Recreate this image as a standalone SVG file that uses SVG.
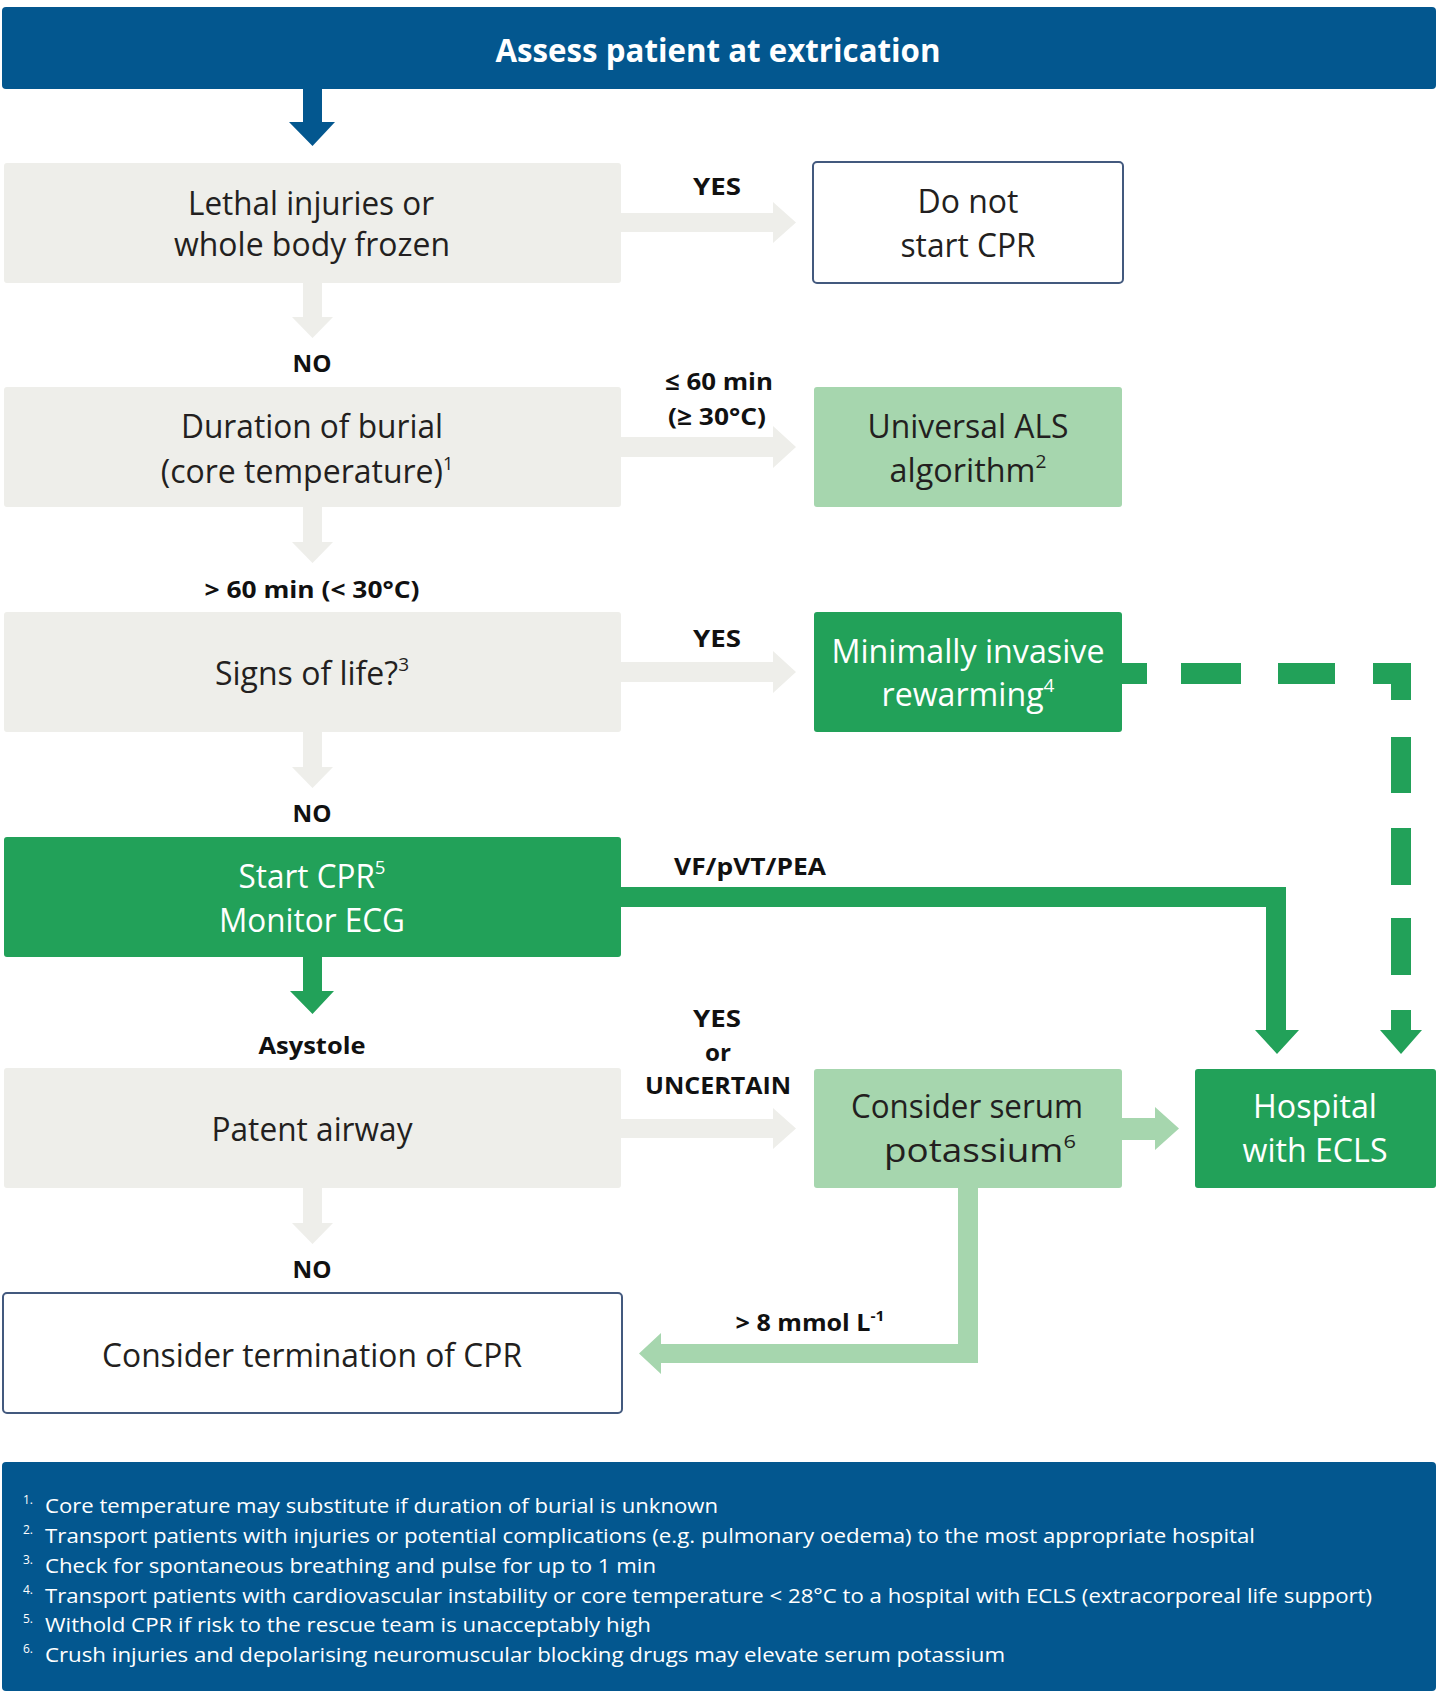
<svg xmlns="http://www.w3.org/2000/svg" width="1440" height="1697" viewBox="0 0 1440 1697">
<style>
.t{font-family:"Open Sans","Liberation Sans",sans-serif;font-size:32px;fill:#231f20;text-anchor:middle}
.w{fill:#ffffff}
.lb{font-family:"Open Sans","Liberation Sans",sans-serif;font-size:24px;font-weight:bold;fill:#111111;text-anchor:middle}
.hd{font-family:"Open Sans","Liberation Sans",sans-serif;font-size:32px;font-weight:bold;fill:#ffffff;text-anchor:middle}
.fn{font-family:"Open Sans","Liberation Sans",sans-serif;font-size:20px;fill:#ffffff}
.fs{font-family:"Open Sans","Liberation Sans",sans-serif;font-size:12px;fill:#ffffff}
.gray{fill:#eeeeea}
.lg{fill:#a6d6ae}
.dg{fill:#22a159}
.blue{fill:#03578f}
.outl{fill:#ffffff;stroke:#43597e;stroke-width:2}
</style>
<rect width="1440" height="1697" fill="#ffffff"/>

<g id="header">
<rect class="blue" x="2" y="7" width="1434" height="82" rx="4"/>
<text class="hd" x="718" y="62" textLength="445" lengthAdjust="spacingAndGlyphs">Assess patient at extrication</text>
</g>

<g id="connectors">
<path class="blue" d="M303,89 H322 V122 H335 L312.5,146 L289,122 H303 Z"/>
<path class="gray" d="M303,283 H322 V317 H333 L312.5,338 L292,317 H303 Z"/>
<path class="gray" d="M303,507 H322 V542 H333 L312.5,563 L292,542 H303 Z"/>
<path class="gray" d="M303,732 H322 V767 H333 L312.5,788 L292,767 H303 Z"/>
<path class="dg" d="M303,957 H322 V991 H334 L312.5,1014 L290,991 H303 Z"/>
<path class="gray" d="M303,1188 H322 V1223 H333 L312.5,1244 L292,1223 H303 Z"/>
<path class="gray" d="M621,213 H773 V202 L796,222.5 L773,243 V232 H621 Z"/>
<path class="gray" d="M621,437 H773 V426 L796,447 L773,468 V457 H621 Z"/>
<path class="gray" d="M621,662 H773 V651 L796,672 L773,693 V682 H621 Z"/>
<path class="gray" d="M621,1119 H773 V1108 L796,1128.5 L773,1149 V1138 H621 Z"/>
<path class="lg" d="M1122,1118 H1155 V1107 L1179,1128.5 L1155,1150 V1140 H1122 Z"/>
<path class="dg" d="M621,887 H1286 V1030 H1299 L1277,1054 L1255,1030 H1266 V907 H621 Z"/>
<path class="lg" d="M958,1188 H978 V1363 H661 V1374 L639,1353.5 L661,1333 V1344 H958 Z"/>
<g class="dg">
<rect x="1122" y="663" width="25" height="21"/>
<rect x="1181" y="663" width="60" height="21"/>
<rect x="1278" y="663" width="57" height="21"/>
<path d="M1373,663 H1411 V700 H1391 V684 H1373 Z"/>
<rect x="1391" y="737" width="20" height="56"/>
<rect x="1391" y="828" width="20" height="57"/>
<rect x="1391" y="918" width="20" height="57"/>
<path d="M1391,1010 H1411 V1030 H1422 L1401,1054 L1380,1030 H1391 Z"/>
</g>
<text class="lb" x="717" y="195" textLength="48" lengthAdjust="spacingAndGlyphs">YES</text>
<text class="lb" x="312" y="372" textLength="39" lengthAdjust="spacingAndGlyphs">NO</text>
<text class="lb" x="719" y="390" textLength="108" lengthAdjust="spacingAndGlyphs">≤ 60 min</text>
<text class="lb" x="717" y="425" textLength="98" lengthAdjust="spacingAndGlyphs">(≥ 30°C)</text>
<text class="lb" x="312" y="598" textLength="215" lengthAdjust="spacingAndGlyphs">&gt; 60 min (&lt; 30°C)</text>
<text class="lb" x="717" y="647" textLength="48" lengthAdjust="spacingAndGlyphs">YES</text>
<text class="lb" x="312" y="822" textLength="39" lengthAdjust="spacingAndGlyphs">NO</text>
<text class="lb" x="750" y="875" textLength="152" lengthAdjust="spacingAndGlyphs">VF/pVT/PEA</text>
<text class="lb" x="312" y="1054" textLength="107" lengthAdjust="spacingAndGlyphs">Asystole</text>
<text class="lb" x="717" y="1027" textLength="48" lengthAdjust="spacingAndGlyphs">YES</text>
<text class="lb" x="718" y="1061" textLength="26" lengthAdjust="spacingAndGlyphs">or</text>
<text class="lb" x="718" y="1094" textLength="146" lengthAdjust="spacingAndGlyphs">UNCERTAIN</text>
<text class="lb" x="312" y="1278" textLength="39" lengthAdjust="spacingAndGlyphs">NO</text>
<text class="lb" x="810" y="1331" textLength="149" lengthAdjust="spacingAndGlyphs">&gt; 8 mmol L<tspan font-size="15" dy="-10">-1</tspan></text>
</g>

<g id="lethal">
<rect class="gray" x="4" y="163" width="617" height="120" rx="3"/>
<text class="t" x="311" y="215" textLength="246" lengthAdjust="spacingAndGlyphs">Lethal injuries or</text>
<text class="t" x="312" y="256" textLength="276" lengthAdjust="spacingAndGlyphs">whole body frozen</text>
</g>
<g id="donotstart">
<rect class="outl" x="813" y="162" width="310" height="121" rx="4"/>
<text class="t" x="968" y="213" textLength="101" lengthAdjust="spacingAndGlyphs">Do not</text>
<text class="t" x="968" y="257" textLength="135" lengthAdjust="spacingAndGlyphs">start CPR</text>
</g>
<g id="duration">
<rect class="gray" x="4" y="387" width="617" height="120" rx="3"/>
<text class="t" x="312" y="438" textLength="262" lengthAdjust="spacingAndGlyphs">Duration of burial</text>
<text class="t" x="307" y="483" font-size="30">(core temperature)<tspan font-size="18" dy="-13">1</tspan></text>
</g>
<g id="universal">
<rect class="lg" x="814" y="387" width="308" height="120" rx="3"/>
<text class="t" x="968" y="438" textLength="201" lengthAdjust="spacingAndGlyphs">Universal ALS</text>
<text class="t" x="968" y="482" textLength="157" lengthAdjust="spacingAndGlyphs">algorithm<tspan font-size="19" dy="-14">2</tspan></text>
</g>
<g id="signs">
<rect class="gray" x="4" y="612" width="617" height="120" rx="3"/>
<text class="t" x="312" y="685" textLength="194" lengthAdjust="spacingAndGlyphs">Signs of life?<tspan font-size="19" dy="-14">3</tspan></text>
</g>
<g id="rewarming">
<rect class="dg" x="814" y="612" width="308" height="120" rx="3"/>
<text class="t w" x="968" y="663" textLength="273" lengthAdjust="spacingAndGlyphs">Minimally invasive</text>
<text class="t w" x="968" y="706" textLength="173" lengthAdjust="spacingAndGlyphs">rewarming<tspan font-size="19" dy="-14">4</tspan></text>
</g>
<g id="startcpr">
<rect class="dg" x="4" y="837" width="617" height="120" rx="3"/>
<text class="t w" x="312" y="888" textLength="147" lengthAdjust="spacingAndGlyphs">Start CPR<tspan font-size="19" dy="-14">5</tspan></text>
<text class="t w" x="312" y="932" textLength="186" lengthAdjust="spacingAndGlyphs">Monitor ECG</text>
</g>
<g id="airway">
<rect class="gray" x="4" y="1068" width="617" height="120" rx="3"/>
<text class="t" x="312" y="1141" textLength="201" lengthAdjust="spacingAndGlyphs">Patent airway</text>
</g>
<g id="potassium">
<rect class="lg" x="814" y="1069" width="308" height="119" rx="3"/>
<text class="t" x="967" y="1118" textLength="232" lengthAdjust="spacingAndGlyphs">Consider serum</text>
<text class="t" x="980" y="1162" textLength="192" lengthAdjust="spacingAndGlyphs">potassium<tspan font-size="19" dy="-14">6</tspan></text>
</g>
<g id="hospital">
<rect class="dg" x="1195" y="1069" width="241" height="119" rx="3"/>
<text class="t w" x="1315" y="1118" textLength="124" lengthAdjust="spacingAndGlyphs">Hospital</text>
<text class="t w" x="1315" y="1162" textLength="145" lengthAdjust="spacingAndGlyphs">with ECLS</text>
</g>
<g id="termination">
<rect class="outl" x="3" y="1293" width="619" height="120" rx="4"/>
<text class="t" x="312" y="1367" textLength="420" lengthAdjust="spacingAndGlyphs">Consider termination of CPR</text>
</g>

<g id="footnotes">
<rect class="blue" x="2" y="1462" width="1434" height="229" rx="4"/>
<text class="fs" x="23" y="1504">1.</text>
<text class="fn" x="45" y="1513" textLength="673" lengthAdjust="spacingAndGlyphs">Core temperature may substitute if duration of burial is unknown</text>
<text class="fs" x="23" y="1534">2.</text>
<text class="fn" x="45" y="1543" textLength="1210" lengthAdjust="spacingAndGlyphs">Transport patients with injuries or potential complications (e.g. pulmonary oedema) to the most appropriate hospital</text>
<text class="fs" x="23" y="1564">3.</text>
<text class="fn" x="45" y="1573" textLength="611" lengthAdjust="spacingAndGlyphs">Check for spontaneous breathing and pulse for up to 1 min</text>
<text class="fs" x="23" y="1594">4.</text>
<text class="fn" x="45" y="1603" textLength="1327" lengthAdjust="spacingAndGlyphs">Transport patients with cardiovascular instability or core temperature &lt; 28°C to a hospital with ECLS (extracorporeal life support)</text>
<text class="fs" x="23" y="1623">5.</text>
<text class="fn" x="45" y="1632" textLength="606" lengthAdjust="spacingAndGlyphs">Withold CPR if risk to the rescue team is unacceptably high</text>
<text class="fs" x="23" y="1653">6.</text>
<text class="fn" x="45" y="1662" textLength="960" lengthAdjust="spacingAndGlyphs">Crush injuries and depolarising neuromuscular blocking drugs may elevate serum potassium</text>
</g>
</svg>
